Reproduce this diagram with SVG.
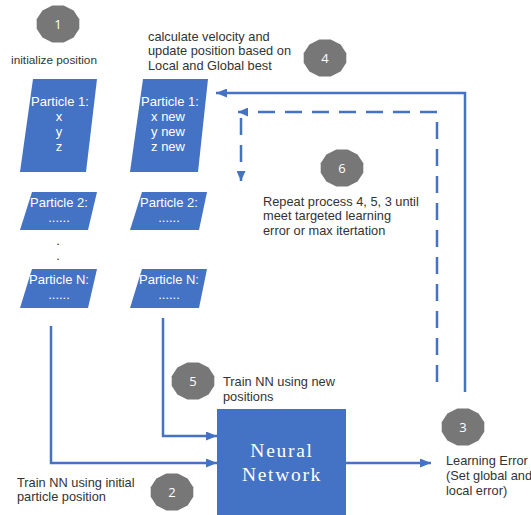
<svg xmlns="http://www.w3.org/2000/svg" width="531" height="515" viewBox="0 0 531 515">
<style>
.lbl{font-family:"Liberation Sans",Arial,sans-serif;font-size:12.8px;fill:#333}
.pt{font-family:"Liberation Sans",Arial,sans-serif;font-size:13px;fill:#fff;text-anchor:middle}
.num{font-family:"Open Sans","Liberation Sans",sans-serif;font-size:13px;fill:#fff;text-anchor:middle}
.box{fill:#4472C4}
.badge{fill:#777}
.ln{fill:none;stroke:#4472C4;stroke-width:2.5}
.dash{stroke-dasharray:17 10}
.nn{font-family:"Liberation Serif","DejaVu Serif",serif;font-size:19.5px;fill:#fff;text-anchor:middle;letter-spacing:1.7px}
</style>
<defs>
<marker id="arr" markerUnits="userSpaceOnUse" markerWidth="11" markerHeight="9" refX="11" refY="4.5" orient="auto"><path d="M0,0 L11,4.5 L0,9 z" fill="#4472C4"/></marker>
<marker id="arrs" markerUnits="userSpaceOnUse" markerWidth="10" markerHeight="9" refX="10" refY="4.5" orient="auto"><path d="M0,0 L10,4.5 L0,9 z" fill="#4472C4"/></marker>
<polygon id="bdg" points="21.3,4.7 15.6,13.4 5.7,18.4 -5.7,18.4 -15.6,13.4 -21.3,4.7 -21.3,-4.7 -15.6,-13.4 -5.7,-18.4 5.7,-18.4 15.6,-13.4 21.3,-4.7"/>
</defs>

<g id="connectors">
<path class="ln" d="M51 326 V463 H217" marker-end="url(#arr)"/>
<path class="ln" d="M163 318 V436 H217" marker-end="url(#arr)"/>
<path class="ln" d="M346 463 H431" marker-end="url(#arr)"/>
<path class="ln" d="M465 392 V93 H216" marker-end="url(#arr)"/>
<path class="ln dash" d="M437 382 V112 H238" marker-end="url(#arrs)"/>
<path class="ln dash" d="M241 118 V181" marker-end="url(#arrs)"/>
</g>

<g id="step1">
<use href="#bdg" class="badge" x="58" y="24"/>
<text class="num" x="58" y="29">1</text>
<text class="lbl" x="54" y="64" text-anchor="middle" style="font-size:11.8px">initialize position</text>
</g>

<g id="p1-init">
<polygon class="box" points="33,79 97,79 86,172 20,172"/>
<text class="pt" x="60" y="106">Particle 1:</text>
<text class="pt" x="59" y="121">x</text>
<text class="pt" x="59" y="136">y</text>
<text class="pt" x="59" y="151">z</text>
</g>
<g id="p2-init">
<polygon class="box" points="32,192 97,192 88,230 20,230"/>
<text class="pt" x="59" y="207">Particle 2:</text>
<text class="pt" x="59" y="222">......</text>
</g>
<g id="dots">
<text class="lbl" x="58" y="245" text-anchor="middle">.</text>
<text class="lbl" x="58" y="260" text-anchor="middle">.</text>
</g>
<g id="pN-init">
<polygon class="box" points="32,269 97,269 88,308 20,308"/>
<text class="pt" x="59" y="284">Particle N:</text>
<text class="pt" x="59" y="299">......</text>
</g>

<g id="p1-new">
<polygon class="box" points="143,79 208,79 198,172 130,172"/>
<text class="pt" x="170" y="106">Particle 1:</text>
<text class="pt" x="168" y="121">x new</text>
<text class="pt" x="168" y="136">y new</text>
<text class="pt" x="168" y="151">z new</text>
</g>
<g id="p2-new">
<polygon class="box" points="142,192 207,192 199,230 130,230"/>
<text class="pt" x="169" y="207">Particle 2:</text>
<text class="pt" x="169" y="222">......</text>
</g>
<g id="pN-new">
<polygon class="box" points="142,269 207,269 199,308 130,308"/>
<text class="pt" x="169" y="284">Particle N:</text>
<text class="pt" x="169" y="299">......</text>
</g>

<g id="step4">
<use href="#bdg" class="badge" x="325" y="58"/>
<text class="num" x="325" y="63">4</text>
<text class="lbl" x="148" y="40.5">calculate velocity and</text>
<text class="lbl" x="148" y="55">update position based on</text>
<text class="lbl" x="148" y="69.5">Local and Global best</text>
</g>

<g id="step6">
<use href="#bdg" class="badge" x="342" y="168"/>
<text class="num" x="342" y="173">6</text>
<text class="lbl" x="263" y="205.5">Repeat process 4, 5, 3 until</text>
<text class="lbl" x="263" y="220">meet targeted learning</text>
<text class="lbl" x="263" y="234.5">error or max itertation</text>
</g>

<g id="step5">
<use href="#bdg" class="badge" x="193" y="381"/>
<text class="num" x="193" y="386">5</text>
<text class="lbl" x="223" y="386">Train NN using new</text>
<text class="lbl" x="223" y="400.5">positions</text>
</g>

<g id="neural-network">
<rect class="box" x="217" y="409" width="129" height="106"/>
<text class="nn" x="282" y="457">Neural</text>
<text class="nn" x="282" y="481">Network</text>
</g>

<g id="step2">
<use href="#bdg" class="badge" x="172" y="492"/>
<text class="num" x="172" y="497">2</text>
<text class="lbl" x="17" y="486.5">Train NN using initial</text>
<text class="lbl" x="17" y="501">particle position</text>
</g>

<g id="step3">
<use href="#bdg" class="badge" x="463" y="427"/>
<text class="num" x="463" y="432">3</text>
<text class="lbl" x="446" y="465">Learning Error</text>
<text class="lbl" x="446" y="480">(Set global and</text>
<text class="lbl" x="446" y="495">local error)</text>
</g>
</svg>
